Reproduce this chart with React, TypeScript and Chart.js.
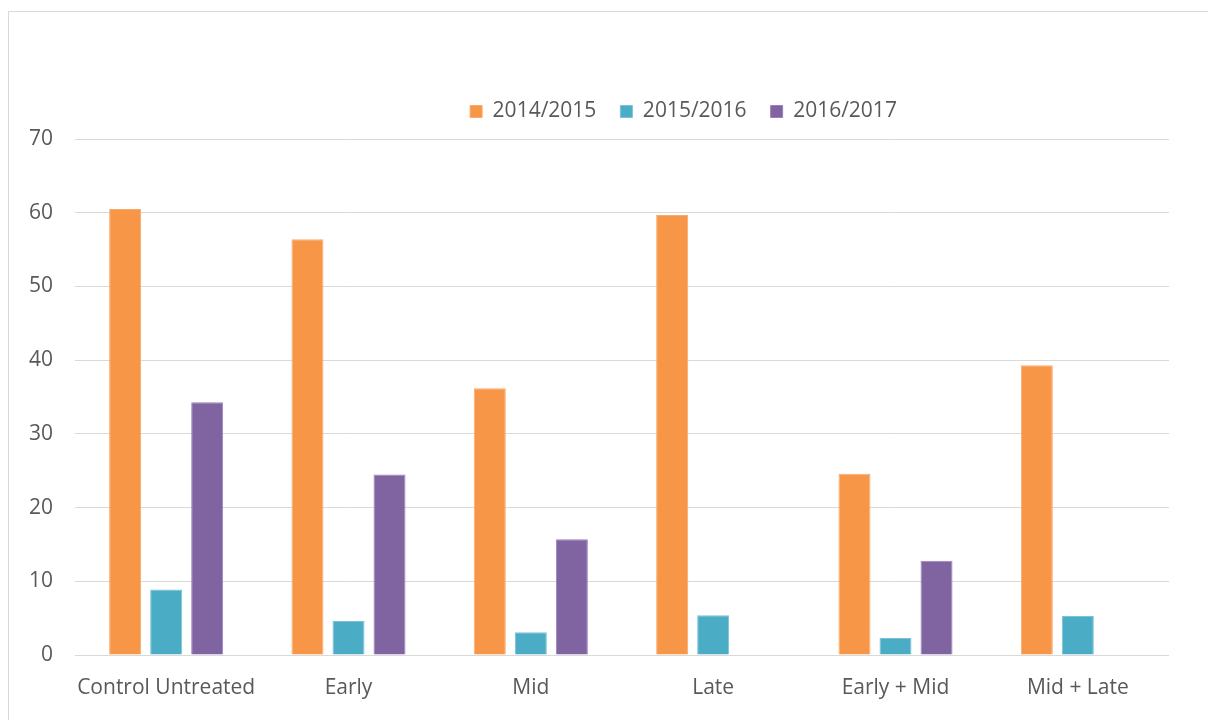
import React, { useEffect, useRef } from "react";
import { Chart, registerables } from "chart.js";

Chart.register(...registerables);

const categories = ["Control Untreated", "Early", "Mid", "Late", "Early + Mid", "Mid + Late"];
const seriesNames = ["2014/2015", "2015/2016", "2016/2017"];
const values2014 = [60.5, 56.4, 36.2, 59.7, 24.6, 39.3];
const values2015 = [8.9, 4.6, 3.1, 5.4, 2.3, 5.3];
const values2016 = [34.3, 24.5, 15.7, null, 12.8, null];
const yTicks = [0, 10, 20, 30, 40, 50, 60, 70];

const colors = ["#F79646", "#4BACC6", "#8064A2"];
const edgeColors = ["#F9AA70", "#7CC2D6", "#9A82B8"];

const FONT = "'Open Sans', 'Noto Sans', sans-serif";
const LEGEND_DX = 94;
const LEGEND_DY = -7;

const legendShift = {
  id: "legendShift",
  afterLayout(chart: any) {
    const lg = chart.legend;
    if (!lg) return;
    lg.left += LEGEND_DX;
    lg.right += LEGEND_DX;
    lg.top += LEGEND_DY;
    lg.bottom += LEGEND_DY;
  },
};

export default function App() {
  const ref = useRef<HTMLCanvasElement | null>(null);
  useEffect(() => {
    if (!ref.current) return;
    const data = [values2014, values2015, values2016];
    const chart = new Chart(ref.current, {
      type: "bar",
      data: {
        labels: categories,
        datasets: seriesNames.map((name, i) => ({
          label: name,
          data: data[i] as any,
          backgroundColor: colors[i],
          borderColor: edgeColors[i],
          borderWidth: 1,
          barPercentage: 0.78,
          categoryPercentage: 0.675,
        })),
      },
      plugins: [legendShift],
      options: {
        responsive: false,
        animation: false,
        layout: { padding: { left: 10, right: 39, top: 84, bottom: 0 } },
        plugins: {
          tooltip: { enabled: false },
          legend: {
            position: "top",
            labels: {
              boxWidth: 12,
              boxHeight: 12,
              padding: 24,
              color: "#595959",
              font: { family: FONT, size: 21 },
            },
          },
        },
        scales: {
          x: {
            grid: { display: false, drawTicks: false },
            border: { display: false },
            ticks: { color: "#595959", font: { family: FONT, size: 21 }, padding: 20, maxRotation: 0 },
            afterFit: (s: any) => { s.height = 65; },
          },
          y: {
            min: 0,
            max: 70,
            afterBuildTicks: (s: any) => { s.ticks = yTicks.map((v) => ({ value: v })); },
            grid: { color: "#D9D9D9", lineWidth: 1, drawTicks: false },
            border: { display: false },
            ticks: { color: "#595959", font: { family: FONT, size: 21 }, padding: 22 },
            afterFit: (s: any) => { s.width = 65; },
          },
        },
      },
    });
    return () => chart.destroy();
  }, []);

  return (
    <div style={{ position: "fixed", left: 0, top: 0, width: 1208, height: 720, overflow: "hidden", background: "#fff" }}>
      <div
        style={{
          position: "absolute",
          left: 8,
          top: 11,
          width: 1300,
          height: 800,
          border: "1px solid #D9D9D9",
          boxSizing: "border-box",
        }}
      />
      <canvas ref={ref} width={1208} height={720} style={{ position: "absolute", left: 0, top: 0 }} />
    </div>
  );
}
